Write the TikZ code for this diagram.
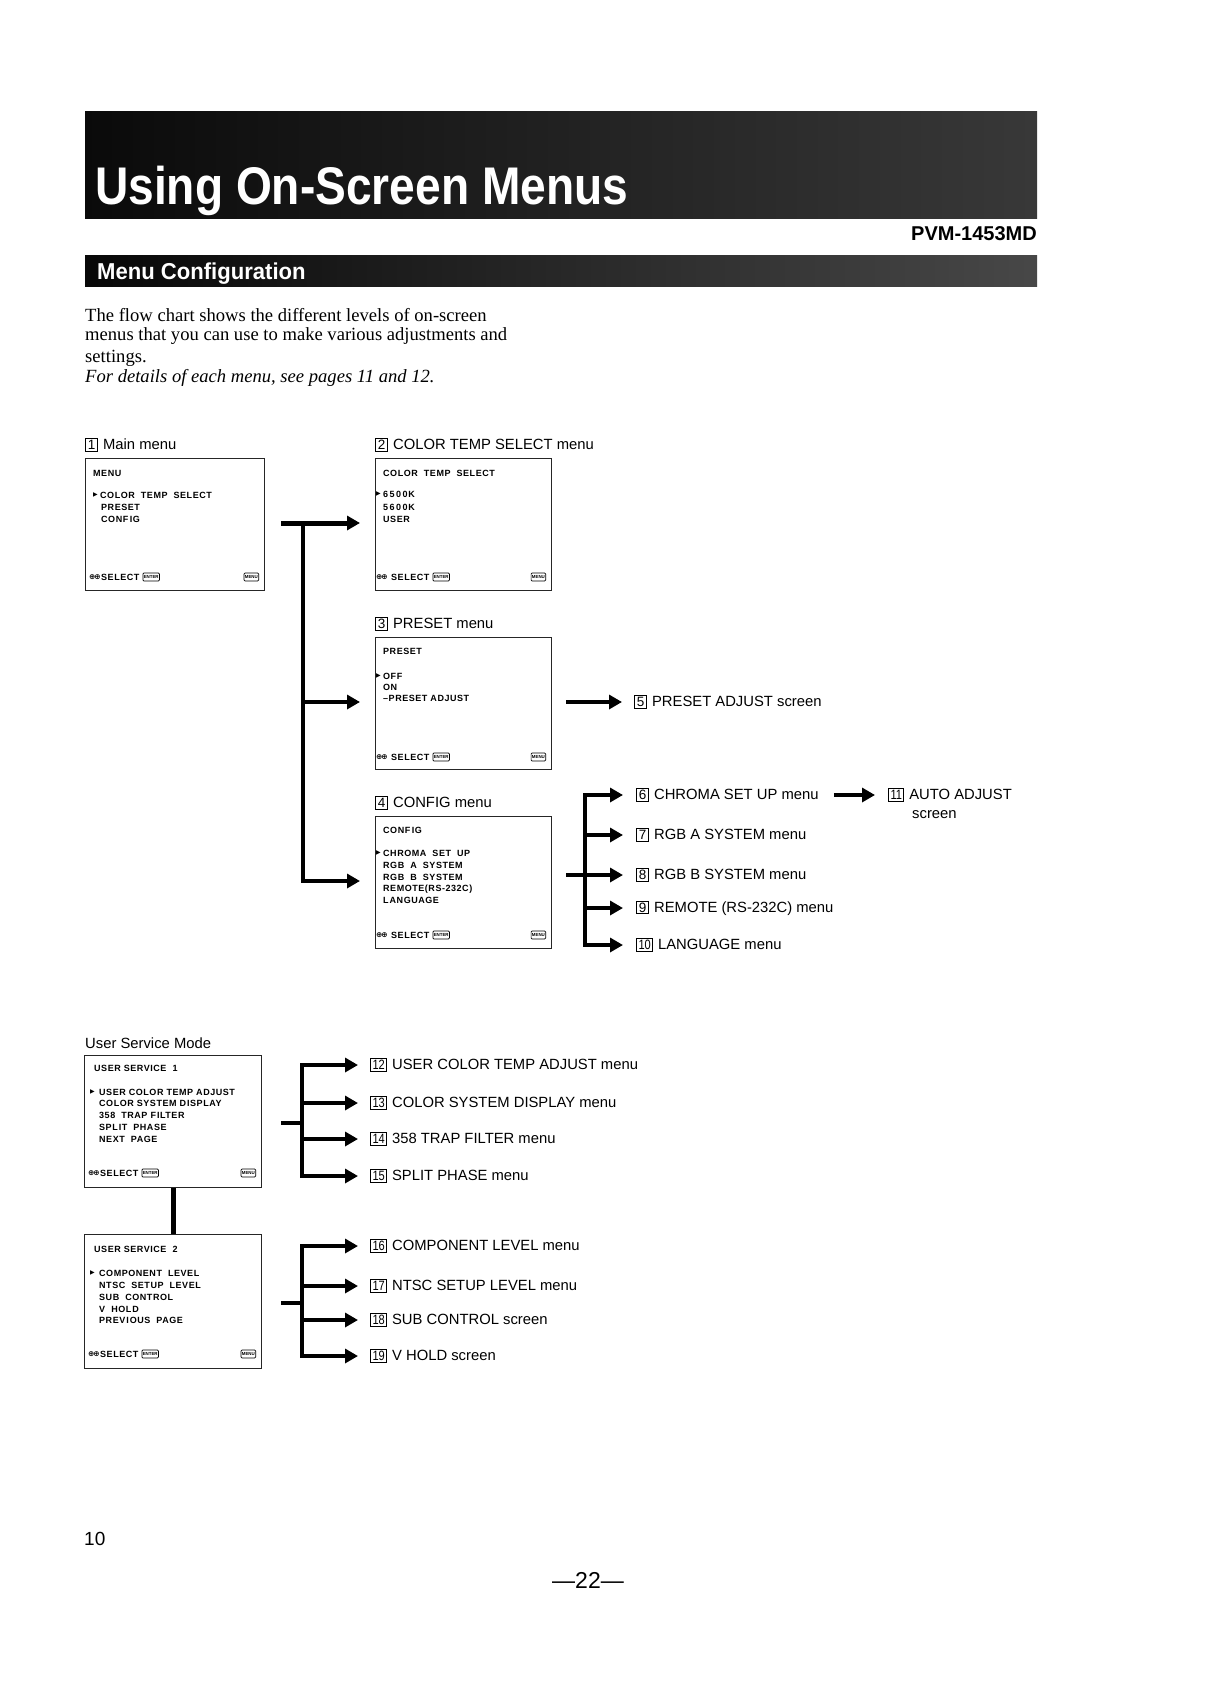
\documentclass[tikz,border=0pt]{standalone}
\usepackage{fontspec}
\usepackage{graphicx}
\setmainfont{Liberation Sans}
\newfontfamily\serifff{Liberation Serif}
\newfontfamily\osd{Liberation Sans}[LetterSpace=6]
\newfontfamily\dvs{DejaVu Sans}
\usetikzlibrary{arrows.meta}
\newcommand\nbox[1]{{\setlength\fboxsep{0.5pt}\setlength\fboxrule{1pt}\fbox{\hspace{1.2pt}\rule[-0.6pt]{0pt}{10.8pt}\fontsize{13.5}{13.5}\selectfont#1\hspace{1.2pt}}}}
\newcommand\nboxx[1]{{\setlength\fboxsep{0.5pt}\setlength\fboxrule{1pt}\fbox{\hspace{0.8pt}\rule[-0.6pt]{0pt}{10.8pt}\scalebox{0.82}[1]{\fontsize{13.5}{13.5}\selectfont#1}\hspace{0.8pt}}}}
\newcommand\osdfoot[5]{%
  \node[tri] (#1ico) at (#2,#4) {\bfseries ⊕\kern-1.2pt⊕};
  \node[osdt] (#1sel) at (#3,#4) {SELECT};
  \node[key, anchor=west] (#1ent) at ([xshift=3pt]#1sel.east) {ENTER};
  \node[key, anchor=east] (#1men) at (#5,#4) {MENU};
}
\begin{document}
\begin{tikzpicture}[x=1pt,y=-1pt,
  scr/.style={draw=black!85, line width=1.1pt, inner sep=0pt, anchor=north west},
  lab/.style={anchor=west, inner sep=0pt, font=\fontsize{14.8}{17}\selectfont},
  osdt/.style={anchor=west, inner sep=0pt, font=\osd\bfseries\fontsize{9}{10}\selectfont},
  tri/.style={anchor=west, inner sep=0pt, font=\dvs\fontsize{7.5}{7.5}\selectfont},
  key/.style={draw, rounded corners=1pt, line width=0.7pt, inner sep=0.8pt, minimum height=8pt, font=\bfseries\fontsize{4.4}{4.4}\selectfont},
  arr/.style={line width=4pt, -{Triangle[length=13pt,width=14pt]}},
  arrr/.style={line width=4pt, {Triangle[length=13pt,width=14pt]}-{Triangle[length=13pt,width=14pt]}},
  bar/.style={line width=4pt},
  intro/.style={anchor=base west, inner sep=0pt, font=\serifff\fontsize{18.6}{21}\selectfont},
]
\useasboundingbox (0,0) rectangle (1206,1693);
\fill[white] (0,0) rectangle (1206,1693);

% ---- header bars
\shade[left color=black!96, right color=black!78] (85,112) rectangle (1037,219);
\node[anchor=base west, inner sep=0pt, text=white, font=\bfseries\fontsize{53}{53}\selectfont] (title) at (95,205) {\scalebox{0.87}[1]{Using On-Screen Menus}};
\node[anchor=base east, inner sep=0pt, font=\bfseries\fontsize{20}{20}\selectfont] (model) at (1037,241) {PVM-1453MD};
\shade[left color=black!97, right color=black!72] (85,256) rectangle (1037,287);
\node[anchor=base west, inner sep=0pt, text=white, font=\bfseries\fontsize{23}{23}\selectfont] (sub) at (97,280) {\scalebox{0.96}[1]{Menu Configuration}};

% ---- intro
\node[intro] (i1) at (85,321) {The flow chart shows the different levels of on-screen};
\node[intro] (i2) at (85,341) {menus that you can use to make various adjustments and};
\node[intro] (i3) at (85,362) {settings.};
\node[intro, font=\serifff\itshape\fontsize{18.6}{21}\selectfont] (i4) at (85,382) {For details of each menu, see pages 11 and 12.};

% ---- labels
\node[lab] (l1) at (85,445) {\nbox{1}\hspace{5pt}Main menu};
\node[lab] (l2) at (375,445) {\nbox{2}\hspace{5pt}COLOR TEMP SELECT menu};
\node[lab] (l3) at (375,624) {\nbox{3}\hspace{5pt}PRESET menu};
\node[lab] (l4) at (375,803) {\nbox{4}\hspace{5pt}CONFIG menu};
\node[lab] (l5) at (634,702) {\nbox{5}\hspace{5pt}PRESET ADJUST screen};
\node[lab] (l6) at (636,795) {\nbox{6}\hspace{5pt}CHROMA SET UP menu};
\node[lab] (l7) at (636,835) {\nbox{7}\hspace{5pt}RGB A SYSTEM menu};
\node[lab] (l8) at (636,875) {\nbox{8}\hspace{5pt}RGB B SYSTEM menu};
\node[lab] (l9) at (636,908) {\nbox{9}\hspace{5pt}REMOTE (RS-232C) menu};
\node[lab] (l10) at (636,945) {\nboxx{10}\hspace{5pt}LANGUAGE menu};
\node[lab] (l11) at (888,795) {\nboxx{11}\hspace{5pt}AUTO ADJUST};
\node[lab] (l11b) at (912,815) {screen};
\node[lab] (lus) at (85,1043) {User Service Mode};
\node[lab] (l12) at (370,1065) {\nboxx{12}\hspace{5pt}USER COLOR TEMP ADJUST menu};
\node[lab] (l13) at (370,1103) {\nboxx{13}\hspace{5pt}COLOR SYSTEM DISPLAY menu};
\node[lab] (l14) at (370,1139) {\nboxx{14}\hspace{5pt}358 TRAP FILTER menu};
\node[lab] (l15) at (370,1176) {\nboxx{15}\hspace{5pt}SPLIT PHASE menu};
\node[lab] (l16) at (370,1246) {\nboxx{16}\hspace{5pt}COMPONENT LEVEL menu};
\node[lab] (l17) at (370,1286) {\nboxx{17}\hspace{5pt}NTSC SETUP LEVEL menu};
\node[lab] (l18) at (370,1320) {\nboxx{18}\hspace{5pt}SUB CONTROL screen};
\node[lab] (l19) at (370,1356) {\nboxx{19}\hspace{5pt}V HOLD screen};

% ---- screens
\node[scr, minimum width=179pt, minimum height=132pt] (m1) at (85,458) {};
\node[osdt] (m1h) at (93,473) {MENU};
\node[tri] (m1p) at (93,495) {\fontsize{6}{6}\selectfont ▶};
\node[osdt] (m1a) at (100,495) {COLOR\ \ TEMP\ \ SELECT};
\node[osdt] (m1b) at (101,507) {PRESET};
\node[osdt] (m1c) at (101,519) {CONF\kern1.5pt IG};
\osdfoot{m1}{89}{101}{577}{259}

\node[scr, minimum width=176pt, minimum height=132pt] (m2) at (375,458) {};
\node[osdt] (m2h) at (383,473) {COLOR\ \ TEMP\ \ SELECT};
\node[tri] (m2p) at (376,494) {\fontsize{6}{6}\selectfont ▶};
\node[osdt] (m2a) at (383,494) {6\kern1.5pt 5\kern1.5pt 0\kern1.5pt 0K};
\node[osdt] (m2b) at (383,507) {5\kern1.5pt 6\kern1.5pt 0\kern1.5pt 0K};
\node[osdt] (m2c) at (383,519) {USER};
\osdfoot{m2}{376}{391}{577}{546}

\node[scr, minimum width=176pt, minimum height=132pt] (m3) at (375,637) {};
\node[osdt] (m3h) at (383,651) {PRESET};
\node[tri] (m3p) at (376,676) {\fontsize{6}{6}\selectfont ▶};
\node[osdt] (m3a) at (383,676) {OFF};
\node[osdt] (m3b) at (383,687) {ON};
\node[osdt] (m3c) at (383,698) {–PRESET\ ADJUST};
\osdfoot{m3}{376}{391}{757}{546}

\node[scr, minimum width=176pt, minimum height=132pt] (m4) at (375,816) {};
\node[osdt] (m4h) at (383,830) {CONF\kern1.5pt IG};
\node[tri] (m4p) at (376,853) {\fontsize{6}{6}\selectfont ▶};
\node[osdt] (m4a) at (383,853) {CHROMA\ \ SET\ \ UP};
\node[osdt] (m4b) at (383,865) {RGB\ \ A\ \ SYSTEM};
\node[osdt] (m4c) at (383,877) {RGB\ \ B\ \ SYSTEM};
\node[osdt] (m4d) at (383,889) {REMOTE(RS-232C)};
\node[osdt] (m4e) at (383,900) {L\kern1pt ANGUAGE};
\osdfoot{m4}{376}{391}{935}{546}

\node[scr, minimum width=177pt, minimum height=132pt] (u1) at (84,1055) {};
\node[osdt] (u1h) at (94,1068) {USER\ SERVICE\ \ 1};
\node[tri] (u1p) at (90,1092) {\fontsize{6}{6}\selectfont ▶};
\node[osdt] (u1a) at (99,1092) {USER\ COLOR\ TEMP\ ADJUST};
\node[osdt] (u1b) at (99,1103) {COLOR\ SYSTEM\ D\kern1pt ISPLAY};
\node[osdt] (u1c) at (99,1115) {358\ \ TRAP\ F\kern1pt ILTER};
\node[osdt] (u1d) at (99,1127) {SPL\kern1pt IT\ \ PHASE};
\node[osdt] (u1e) at (99,1139) {NEXT\ \ PAGE};
\osdfoot{u1}{88}{100}{1173}{256}

\node[scr, minimum width=177pt, minimum height=134pt] (u2) at (84,1234) {};
\node[osdt] (u2h) at (94,1249) {USER\ SERVICE\ \ 2};
\node[tri] (u2p) at (90,1273) {\fontsize{6}{6}\selectfont ▶};
\node[osdt] (u2a) at (99,1273) {COMPONENT\ \ LEVEL};
\node[osdt] (u2b) at (99,1285) {NTSC\ \ SETUP\ \ LEVEL};
\node[osdt] (u2c) at (99,1297) {SUB\ \ CONTROL};
\node[osdt] (u2d) at (99,1309) {V\ \ HOL\kern1pt D};
\node[osdt] (u2e) at (99,1320) {PREV\kern1pt I\kern1pt OUS\ \ PAGE};
\osdfoot{u2}{88}{100}{1354}{256}

% ---- connectors: main menu
\coordinate (t0) at (281,523);
\coordinate (tv) at (303,521);
\coordinate (t3) at (303,702);
\coordinate (tb) at (303,881);
\draw[arr, line width=5pt, shorten >=15pt] (t0) -- (t0 -| m2.west);
\draw[arr, shorten >=15pt] (tv) -- (tb) -- (tb -| m4.west);
\draw[arr, shorten >=15pt] (t3) -- (t3 -| m3.west);
\draw[arr, shorten <=14pt, shorten >=12pt] (m3.east |- l5.west) -- (l5.west);

% ---- config branch
\coordinate (cx) at (585,875);
\draw[arr, shorten <=14pt, shorten >=13pt] (m4.east |- l8.west) -- (l8.west);
\draw[arrr, shorten <=13pt, shorten >=13pt] (l6.west) -- (cx |- l6.west) -- (cx |- l10.west) -- (l10.west);
\draw[arr, shorten >=13pt] (cx |- l7.west) -- (l7.west);
\draw[arr, shorten >=13pt] (cx |- l9.west) -- (l9.west);
\draw[arr, shorten <=15pt, shorten >=13pt] (l6.east) -- (l11.west);

% ---- user service
\draw[bar, line width=5pt] (u1.south) -- (u2.north);
\coordinate (ux) at (302,1123);
\coordinate (vx) at (302,1303);
\draw[bar, shorten <=19pt] (u1.east |- ux) -- ([xshift=2pt]ux);
\draw[arrr, shorten <=12pt, shorten >=12pt] (l12.west) -- (ux |- l12.west) -- (ux |- l15.west) -- (l15.west);
\draw[arr, shorten >=12pt] (ux |- l13.west) -- (l13.west);
\draw[arr, shorten >=12pt] (ux |- l14.west) -- (l14.west);
\draw[bar, shorten <=19pt] (u2.east |- vx) -- ([xshift=2pt]vx);
\draw[arrr, shorten <=12pt, shorten >=12pt] (l16.west) -- (vx |- l16.west) -- (vx |- l19.west) -- (l19.west);
\draw[arr, shorten >=12pt] (vx |- l17.west) -- (l17.west);
\draw[arr, shorten >=12pt] (vx |- l18.west) -- (l18.west);

% ---- page numbers
\node[anchor=west, inner sep=0pt, font=\fontsize{19}{19}\selectfont] (pg) at (84,1539) {10};
\node[inner sep=0pt, font=\fontsize{23}{23}\selectfont] (pg2) at (588,1580) {—22—};
\end{tikzpicture}
\end{document}
